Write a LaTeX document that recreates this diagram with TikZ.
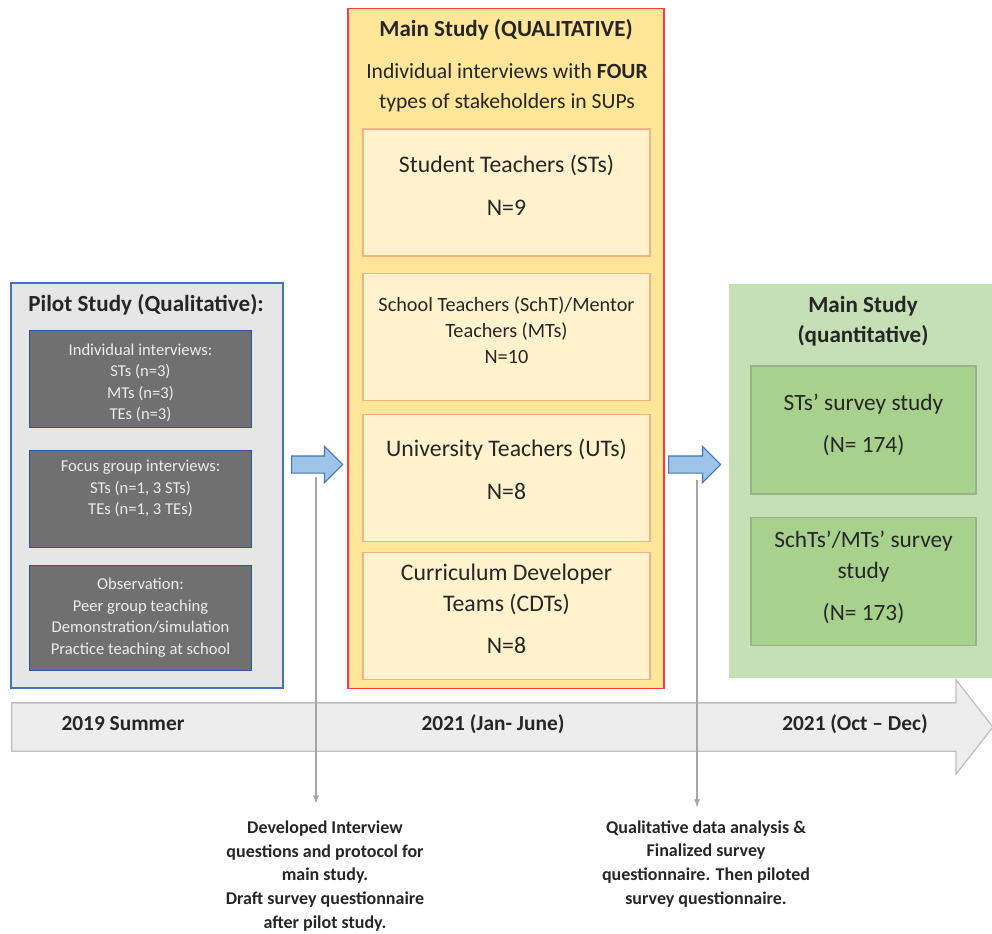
\documentclass[tikz,border=0pt]{standalone}
\usepackage{fontspec}
\setmainfont{Carlito}
\usepackage{xcolor}
\usepackage{tikz}
\usetikzlibrary{arrows,positioning,shapes.arrows}

\definecolor{pilotfill}{HTML}{E7E6E6}
\definecolor{pilotline}{HTML}{4472C4}
\definecolor{darkfill}{HTML}{707070}
\definecolor{darkline}{HTML}{2F5597}
\definecolor{qualfill}{HTML}{FFE699}
\definecolor{qualline}{HTML}{FF3B3B}
\definecolor{stakefill}{HTML}{FFF2CC}
\definecolor{stakeline}{HTML}{F4B183}
\definecolor{quantfill}{HTML}{C5E0B4}
\definecolor{surveyfill}{HTML}{A9D18E}
\definecolor{surveyline}{HTML}{9DB08C}
\definecolor{arrowfill}{HTML}{9DC3E6}
\definecolor{timefill}{HTML}{EDEDED}
\definecolor{timeedge}{HTML}{BFBFBF}
\definecolor{notegray}{HTML}{A6A6A6}
\definecolor{ink}{HTML}{262626}

% extra depth below the last line, lifts the text in its box
\newcommand{\liftstrut}[1]{\rule[-#1]{0pt}{0pt}}

\tikzset{
	pilot/.style={draw=pilotline, fill=pilotfill, line width=0.8pt, minimum width=6.8cm, minimum height=10.125cm},
	pilotitem/.style={draw=darkline, fill=darkfill, line width=0.7pt, text=white!93!black, align=center, minimum width=5.525cm, font=\fontsize{11.8}{15.3}\selectfont},
	qual/.style={draw=qualline, fill=qualfill, line width=0.8pt, minimum width=7.9cm, minimum height=16.975cm},
	stake/.style={draw=stakeline, fill=stakefill, line width=0.8pt, text=ink, align=center, minimum width=7.175cm, minimum height=3.175cm, font=\fontsize{16.9}{22}\selectfont},
	quant/.style={fill=quantfill, minimum width=6.575cm, minimum height=9.85cm},
	survey/.style={draw=surveyline, fill=surveyfill, line width=0.8pt, text=ink, align=center, minimum width=5.625cm, minimum height=3.2cm, font=\fontsize{16.6}{22}\selectfont},
	boxtitle/.style={text=ink, align=center, font=\bfseries\fontsize{16.4}{21.3}\selectfont},
	flow/.style={single arrow, anchor=tail, draw=pilotline, fill=arrowfill, line width=0.8pt, minimum width=0pt, inner ysep=0.2cm, inner xsep=0pt, single arrow head extend=0.2375cm},
	timearrow/.style={single arrow, anchor=tail, draw=timeedge, fill=timefill, line width=0.9pt, single arrow tip angle=104, minimum width=0pt, minimum height=24.525cm, inner ysep=0.5875cm, inner xsep=0pt, single arrow head extend=0.575cm},
	timelabel/.style={text=ink, font=\bfseries\fontsize{15.2}{18}\selectfont},
	note/.style={text=ink, align=center, font=\bfseries\fontsize{12.8}{17}\selectfont},
	noteline/.style={draw=notegray, line width=1pt, -latex}
}

\begin{document}
\begin{tikzpicture}[x=0.025cm, y=-0.025cm]
	\useasboundingbox (0,0) rectangle (992,933);

	% time line at the bottom is drawn
	\node[timearrow] (timeline) at (11,727) {};
	\node[timelabel] (time-1) at (123,724) {2019 Summer};
	\node[timelabel] (time-2) at (493,724) {2021 (Jan- June)};
	\node[timelabel] (time-3) at (855,724) {2021 (Oct -- Dec)};

	% Pilot study
	\node[pilot] (pilot) at (147,485.5) {};
	\node[boxtitle] (pilot-title) at (146,305) {Pilot Study (Qualitative):};
	\node[pilotitem, minimum height=2.4cm] (pilot-1) at (140.5,379) {\rule{0pt}{14pt}Individual interviews:\\ STs (n=3)\\ MTs (n=3)\\ TEs (n=3)};
	\node[pilotitem, minimum height=2.425cm, below=0.55cm of pilot-1] (pilot-2) {Focus group interviews:\\ STs (n=1, 3 STs)\\ TEs (n=1, 3 TEs)\\ ~};
	\node[pilotitem, minimum height=2.625cm, below=0.425cm of pilot-2] (pilot-3) {Observation:\\ Peer group teaching\\ Demonstration/simulation\\ Practice teaching at school};

	% Main study (qualitative)
	\node[qual] (qual) at (506,348.5) {};
	\node[boxtitle] (qual-title) at (506,30) {Main Study (QUALITATIVE)};
	\node[text=ink, align=center, font=\fontsize{15.4}{21.3}\selectfont] (qual-sub) at (507,88) {Individual interviews with \textbf{FOUR}\\ types of stakeholders in SUPs};
	\node[stake] (stake-1) at (506.5,192.5) {Student Teachers (STs)\\[9pt] N=9\liftstrut{10pt}};
	\node[stake, below=0.4cm of stake-1, font=\fontsize{14.4}{18.5}\selectfont] (stake-2) {School Teachers (SchT)/Mentor\\ Teachers (MTs)\\ N=10\liftstrut{10pt}};
	\node[stake, below=0.325cm of stake-2] (stake-3) {University Teachers (UTs)\\[9pt] N=8\liftstrut{12pt}};
	\node[stake, below=0.25cm of stake-3] (stake-4) {Curriculum Developer\\ Teams (CDTs)\\[8pt] N=8\liftstrut{10pt}};

	% Main study (quantitative)
	\node[quant] (quant) at (860.5,481) {};
	\node[boxtitle] (quant-title) at (863,321) {Main Study\\ (quantitative)};
	\node[survey] (survey-1) at (863.5,430) {STs’ survey study\\[8pt] (N= 174)\liftstrut{9pt}};
	\node[survey, below=0.55cm of survey-1] (survey-2) {SchTs’/MTs’ survey\\ study\\[8pt] (N= 173)\liftstrut{8pt}};

	% flow arrows between the phases
	\node[flow, minimum height=1.275cm] (flow-1) at (291,464.5) {};
	\node[flow, minimum height=1.3cm] (flow-2) at (668,464.5) {};

	% notes below the time line
	\node[note] (note-1) at (325,876) {Developed Interview\\ questions and protocol for\\ main study.\\ Draft survey questionnaire\\ after pilot study.};
	\node[note] (note-2) at (706,864) {Qualitative data analysis \&\\ Finalized survey\\ questionnaire. Then piloted\\ survey questionnaire.};

	\coordinate (drop-1) at (316,477);
	\coordinate (drop-2) at (697,480);
	\draw[noteline, shorten >=0.3cm] (drop-1) -- (drop-1 |- note-1.north);
	\draw[noteline, shorten >=0.2cm] (drop-2) -- (drop-2 |- note-2.north);
\end{tikzpicture}
\end{document}
